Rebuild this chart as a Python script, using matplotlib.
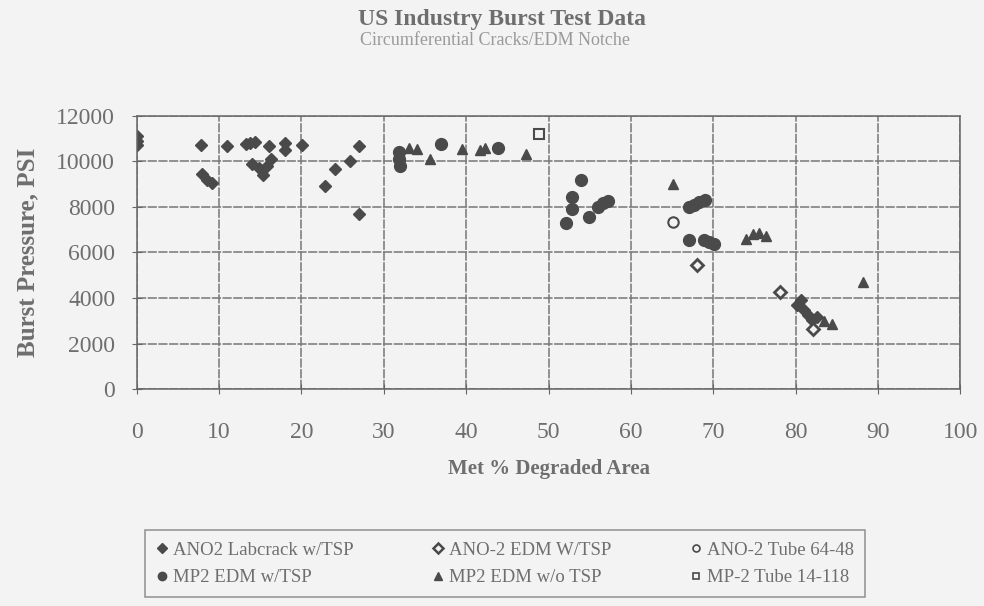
import matplotlib.pyplot as plt
from matplotlib.lines import Line2D

plt.rcParams['font.family'] = ['Liberation Serif', 'DejaVu Serif']

txt = '#6e6e6e'
ink = '#4a4a4a'

# ANO2 Labcrack w/TSP (filled diamond)
lab_x = [0, 0, 0, 7.8, 7.9, 8.5, 9.1, 10.9, 13.3, 13.8, 14.3, 14.0, 14.8, 15.3, 15.8,
         16.1, 16.3, 18.0, 18.0, 20.1, 22.9, 24.1, 25.9, 27.0, 27.0,
         80.2, 80.6, 81.0, 81.5, 82.0, 82.6]
lab_y = [11100, 10900, 10700, 10700, 9450, 9200, 9030, 10650, 10750, 10800, 10850, 9900,
         9700, 9400, 9800, 10650, 10100, 10800, 10500, 10700, 8900, 9650, 10000, 10650, 7700,
         3700, 3900, 3450, 3250, 3050, 3150]

# ANO-2 EDM W/TSP (diamond with light centre)
edm_x = [68.0, 78.1, 82.1]
edm_y = [5450, 4250, 2650]

# ANO-2 Tube 64-48 (open circle)
t64_x = [65.1]
t64_y = [7350]

# MP2 EDM w/TSP (filled circle)
mpw_x = [31.8, 31.8, 32.0, 36.9, 43.9, 52.1, 52.9, 52.9, 53.9, 54.9, 56.0, 56.6, 57.2,
         67.0, 67.7, 68.3, 69.0, 67.0, 68.9, 69.5, 70.1]
mpw_y = [10400, 10100, 9800, 10750, 10600, 7300, 7900, 8450, 9200, 7550, 8000, 8150, 8250,
         8000, 8100, 8200, 8300, 6550, 6550, 6450, 6350]

# MP2 EDM w/o TSP (triangle)
mpo_x = [33.0, 34.0, 35.6, 39.5, 41.7, 42.3, 47.2, 65.1, 74.0, 74.8, 75.6, 76.4, 83.4, 84.4, 88.2]
mpo_y = [10600, 10550, 10100, 10550, 10500, 10600, 10300, 9000, 6600, 6800, 6850, 6700,
         3000, 2850, 4700]

# MP-2 Tube 14-118 (open square)
t14_x = [48.8]
t14_y = [11200]

fig = plt.figure(figsize=(9.84, 6.06), dpi=100, facecolor='#f3f3f3')
ax = fig.add_axes([0.139, 0.358, 0.837, 0.451])
ax.set_facecolor('#f3f3f3')

ms = 7.5
ax.plot(lab_x, lab_y, 'D', ms=ms - 1, color=ink, mec=ink, ls='none')
ax.plot(edm_x, edm_y, 'D', ms=ms - 1, mfc='#f3f3f3', mec=ink, mew=2, ls='none')
ax.plot(t64_x, t64_y, 'o', ms=ms, mfc='#f3f3f3', mec=ink, mew=1.5, ls='none')
ax.plot(mpw_x, mpw_y, 'o', ms=ms + 1, color=ink, ls='none')
ax.plot(mpo_x, mpo_y, '^', ms=ms, color=ink, ls='none')
ax.plot(t14_x, t14_y, 's', ms=ms, mfc='#f3f3f3', mec=ink, mew=1.5, ls='none')

ax.set_xlim(0, 100)
ax.set_ylim(0, 12000)
ax.set_xticks(range(0, 101, 10))
ax.set_yticks(range(0, 12001, 2000))
ax.grid(True, color='#777777', lw=1.1, ls=(0, (6, 1)))
ax.set_axisbelow(True)
for s in ax.spines.values():
    s.set_color('#666666')
    s.set_linewidth(1.1)
ax.tick_params(direction='inout', length=7, colors='#666666', labelcolor=txt,
               labelsize=17)
ax.tick_params(axis='x', pad=20)
ax.tick_params(axis='y', pad=12)

ax.set_xlabel('Met % Degraded Area', fontsize=15, fontweight='bold', color=txt, labelpad=12)
ax.set_ylabel('Burst Pressure, PSI', fontsize=18, fontweight='bold', color=txt, labelpad=12)

fig.text(0.51, 0.968, 'US Industry Burst Test Data', ha='center', va='center',
         fontsize=17, fontweight='bold', color=txt)
fig.text(0.503, 0.933, 'Circumferential Cracks/EDM Notche', ha='center', va='center',
         fontsize=13, color='#9a9a9a')

handles = [
    Line2D([], [], marker='D', ms=5, color=ink, ls='none'),
    Line2D([], [], marker='o', ms=6, color=ink, ls='none'),
    Line2D([], [], marker='D', ms=5, mfc='#f3f3f3', mec=ink, mew=1.8, ls='none'),
    Line2D([], [], marker='^', ms=6, color=ink, ls='none'),
    Line2D([], [], marker='o', ms=5, mfc='#f3f3f3', mec=ink, mew=1.2, ls='none'),
    Line2D([], [], marker='s', ms=5, mfc='#f3f3f3', mec=ink, mew=1.2, ls='none'),
]
labels = ['ANO2 Labcrack w/TSP', 'MP2 EDM w/TSP', 'ANO-2 EDM W/TSP',
          'MP2 EDM w/o TSP', 'ANO-2 Tube 64-48', 'MP-2 Tube 14-118']
leg = fig.legend(handles, labels, ncol=3, loc='upper left', bbox_to_anchor=(0.147, 0.125),
                 borderaxespad=0, frameon=True, fancybox=False, edgecolor='#777777',
                 facecolor='#f3f3f3', fontsize=13.5, handlelength=0.6, handletextpad=0.3,
                 columnspacing=4.2, labelspacing=0.55, borderpad=0.6, labelcolor=txt)
leg.get_frame().set_linewidth(1.1)

fig.savefig('out.png', dpi=100, facecolor=fig.get_facecolor())
